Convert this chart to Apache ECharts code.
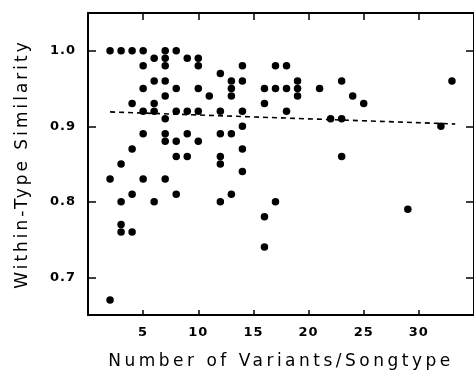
<!DOCTYPE html>
<html>
<head>
<meta charset="utf-8">
<script src="https://cdn.jsdelivr.net/npm/echarts@6/dist/echarts.min.js"></script>
<style>
  html, body { margin: 0; padding: 0; background: #fff; }
  #chart { width: 474px; height: 375px; }
</style>
</head>
<body>
<div id="chart"></div>
<script>
// variants per songtype (x) and within-type similarity (y), paired by index
var variants = [
	2, 2, 2,
	3, 3, 3, 3, 3,
	4, 4, 4, 4, 4,
	5, 5, 5, 5, 5, 5,
	6, 6, 6, 6, 6,
	7, 7, 7, 7, 7, 7, 7, 7, 7,
	8, 8, 8, 8, 8, 8,
	9, 9, 9, 9,
	10, 10, 10, 10, 10,
	11,
	12, 12, 12, 12, 12, 12,
	13, 13, 13, 13, 13,
	14, 14, 14, 14, 14, 14,
	16, 16, 16, 16,
	17, 17, 17,
	18, 18, 18,
	19, 19, 19,
	21, 22,
	23, 23, 23,
	24, 25, 29, 32, 33
];
var similarity = [
	1.00, 0.83, 0.67,
	1.00, 0.85, 0.80, 0.77, 0.76,
	1.00, 0.93, 0.87, 0.81, 0.76,
	1.00, 0.98, 0.95, 0.92, 0.89, 0.83,
	0.99, 0.96, 0.93, 0.92, 0.80,
	1.00, 0.99, 0.98, 0.96, 0.94, 0.91, 0.89, 0.88, 0.83,
	1.00, 0.95, 0.92, 0.88, 0.86, 0.81,
	0.99, 0.92, 0.89, 0.86,
	0.99, 0.98, 0.95, 0.92, 0.88,
	0.94,
	0.97, 0.92, 0.89, 0.86, 0.85, 0.80,
	0.96, 0.95, 0.94, 0.89, 0.81,
	0.98, 0.96, 0.92, 0.90, 0.87, 0.84,
	0.95, 0.93, 0.78, 0.74,
	0.98, 0.95, 0.80,
	0.98, 0.95, 0.92,
	0.96, 0.95, 0.94,
	0.95, 0.91,
	0.96, 0.91, 0.86,
	0.94, 0.93, 0.79, 0.90, 0.96
];
// dashed trend line, read at its two ends
var trendX = [2, 33.3];
var trendY = [0.919, 0.903];

var xTicks = [5, 10, 15, 20, 25, 30];
var yTicks = [0.7, 0.8, 0.9, 1.0];

var points = variants.map(function(v, i) { return [v, similarity[i]]; });
var trend = trendX.map(function(v, i) { return [v, trendY[i]]; });

// the original lettering is widely spaced
var xTitle = 'Number of Variants/Songtype';
var yTitle = 'Within-Type Similarity';
var origFillText = CanvasRenderingContext2D.prototype.fillText;
CanvasRenderingContext2D.prototype.fillText = function(text) {
	var prev = this.letterSpacing;
	if (text === xTitle) this.letterSpacing = '3.5px';
	else if (text === yTitle) this.letterSpacing = '3px';
	else this.letterSpacing = '1px';
	var r = origFillText.apply(this, arguments);
	this.letterSpacing = prev;
	return r;
};

var chart = echarts.init(document.getElementById('chart'), null, { renderer: 'canvas' });
var tickFont = {
	color: '#000',
	fontFamily: 'DejaVu Sans',
	fontWeight: 'bold',
	fontSize: 13
};
var frameLine = { show: true, onZero: false, lineStyle: { color: '#000', width: 2 } };
var noSplit = { show: true, lineStyle: { color: 'rgba(0,0,0,0)' } };
function ticks(len, values) {
	var t = { show: true, inside: true, length: len, lineStyle: { color: '#000', width: 1.5 } };
	if (values) t.customValues = values;
	return t;
}
var option = {
	animation: false,
	backgroundColor: '#fff',
	grid: {
		left: 88,
		top: 13,
		width: 388,
		height: 304
	},
	xAxis: [ {
		type: 'value',
		position: 'bottom',
		min: 0,
		max: 35,
		interval: 5,
		name: xTitle,
		nameLocation: 'middle',
		nameGap: 38,
		nameTextStyle: { color: '#000', fontFamily: 'DejaVu Sans', fontSize: 17 },
		axisLine: frameLine,
		axisTick: ticks(5),
		axisLabel: Object.assign({ customValues: xTicks, margin: 11 }, tickFont),
		splitLine: noSplit
	}, {
		type: 'value',
		position: 'top',
		min: 0,
		max: 35,
		interval: 5,
		axisLine: frameLine,
		axisTick: ticks(7),
		axisLabel: { show: false },
		splitLine: noSplit
	} ],
	yAxis: [ {
		type: 'value',
		position: 'left',
		min: 0.65,
		max: 1.05,
		name: yTitle,
		nameLocation: 'middle',
		nameGap: 57,
		nameTextStyle: { color: '#000', fontFamily: 'DejaVu Sans', fontSize: 17 },
		axisLine: frameLine,
		axisTick: ticks(8, yTicks),
		axisLabel: Object.assign({
			customValues: yTicks,
			margin: 12,
			formatter: function(v) { return v.toFixed(1); }
		}, tickFont),
		splitLine: noSplit
	}, {
		type: 'value',
		position: 'right',
		min: 0.65,
		max: 1.05,
		axisLine: frameLine,
		axisTick: ticks(8, yTicks),
		axisLabel: { show: false },
		splitLine: noSplit
	} ],
	series: [ {
		type: 'line',
		data: trend,
		symbol: 'none',
		lineStyle: { color: '#000', width: 1.6, type: [5, 4] },
		z: 1
	}, {
		type: 'scatter',
		data: points,
		symbol: 'circle',
		symbolSize: 7.5,
		itemStyle: { color: '#000', opacity: 1 },
		z: 2
	} ]
};
chart.setOption(option);
</script>
</body>
</html>
